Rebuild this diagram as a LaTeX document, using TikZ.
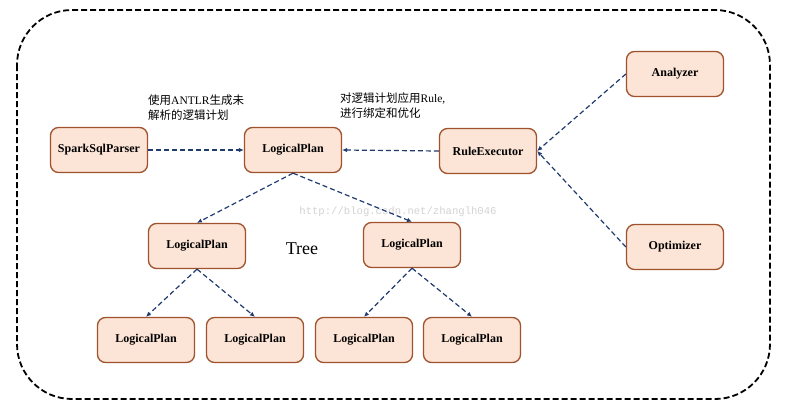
\documentclass[tikz,border=0pt]{standalone}
\usepackage{fontspec}
\setmainfont{Liberation Serif}
\setmonofont{Liberation Mono}
\newfontfamily\cjk{Noto Sans CJK SC}
\usetikzlibrary{arrows.meta}
\definecolor{planFill}{HTML}{FCE4D6}
\definecolor{planEdge}{HTML}{A0522D}
\definecolor{flowBlue}{HTML}{1F3A6E}
\begin{document}
\begin{tikzpicture}
[x=1pt,y=-1pt,
  planBox/.style={shape=rectangle,rounded corners=8pt,draw=planEdge,line width=1.3pt,fill=planFill,
    minimum width=97pt,minimum height=45pt,font=\fontsize{12}{14}\selectfont\bfseries},%
  flowLine/.style={-{Latex[length=5pt,width=4.5pt]},line width=1.2pt,dash pattern=on 5pt off 3pt,color=flowBlue},%
  noteText/.style={align=left,anchor=north west,inner sep=0pt,font=\fontsize{11.5}{15}\selectfont}]
\useasboundingbox (0,0) rectangle (788,408);
%% outer frame
\draw[line width=1.8pt,dash pattern=on 6pt off 3pt,rounded corners=55pt] (17,10) rectangle (770,399);
%% nodes
\node (parser) at (99,150) [planBox] {SparkSqlParser};
\node (plan) at (293,150) [planBox] {LogicalPlan};
\node (rules) at (488,151) [planBox] {RuleExecutor};
\node (analyzer) at (675,74) [planBox] {Analyzer};
\node (optimizer) at (675,247) [planBox] {Optimizer};
\foreach \nodename/\x/\y in {planL/197/246, planR/412/245, planLL/146/340, planLR/255/340, planRL/364/340, planRR/472/340}
{
  \node (\nodename) at (\x,\y) [planBox] {LogicalPlan};
}
%% texts
\node (tree) at (302,249) {\fontsize{18}{20}\selectfont Tree};
\node (noteParse) at (148,95) [noteText] {{\cjk 使用}ANTLR{\cjk 生成未}\\{\cjk 解析的逻辑计划}};
\node (noteRule) at (340,93) [noteText] {{\cjk 对逻辑计划应用}Rule,\\{\cjk 进行绑定和优化}};
\node (mark) at (398,212) {\color{gray!35}\fontsize{10.6}{12}\selectfont\ttfamily http://blog.csdn.net/zhanglh046};
%% flow lines
\draw[flowLine] (parser.east) -- (plan.west);
\draw[flowLine] (rules.west) -- (plan.east);
\draw[flowLine] (analyzer.west) -- (rules.east);
\draw[flowLine] (optimizer.west) -- (rules.east);
%% tree lines
\path
\foreach \startnode/\endnode in {plan/planL, plan/planR, planL/planLL, planL/planLR, planR/planRL, planR/planRR}
{
  (\startnode.south) edge[flowLine] (\endnode.north)
};
\end{tikzpicture}
\end{document}
